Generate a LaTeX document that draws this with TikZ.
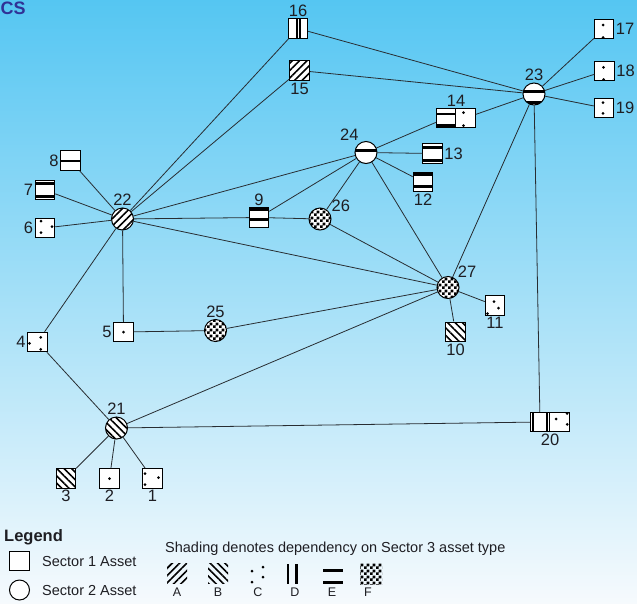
\documentclass[tikz,border=0pt]{standalone}
\usepackage{fontspec}
\setmainfont{Liberation Sans}
\usetikzlibrary{patterns, patterns.meta, positioning}

\definecolor{skytop}{RGB}{85,198,242}
\definecolor{skymid}{RGB}{178,227,248}
\definecolor{skybot}{RGB}{246,250,253}
\definecolor{edgegray}{RGB}{40,45,50}
\definecolor{numgray}{RGB}{30,30,35}
\definecolor{titleblue}{RGB}{48,50,150}

\pgfdeclarepatternformonly{checker}{\pgfpointorigin}{\pgfqpoint{5.6pt}{5.6pt}}{\pgfqpoint{5.6pt}{5.6pt}}{%
  \pgfpathrectangle{\pgfpointorigin}{\pgfqpoint{2.8pt}{2.8pt}}%
  \pgfpathrectangle{\pgfqpoint{2.8pt}{2.8pt}}{\pgfqpoint{2.8pt}{2.8pt}}%
  \pgfusepath{fill}}

\begin{document}
\begin{tikzpicture}[x=1pt, y=-1pt]
      \tikzset{asset1/.style = {shape=rectangle,draw,line width=1pt,preaction={fill=white},minimum size=19.5pt,inner sep=0pt}}
      \tikzset{asset2/.style = {shape=circle,draw,line width=1pt,preaction={fill=white},minimum size=22pt,inner sep=0pt}}
      \tikzset{edge/.style = {-,draw=edgegray,line width=0.8pt}}
      \tikzset{num/.style = {font=\fontsize{16.5}{18}\selectfont,text=numgray,inner sep=1.5pt}}
      \tikzset{legtxt/.style = {font=\fontsize{14.5}{16}\selectfont,text=numgray,inner sep=0pt,anchor=west}}
      \tikzset{shA/.style = {pattern={Lines[angle=45,distance=5.2pt,line width=1.6pt]}}}
      \tikzset{shB/.style = {pattern={Lines[angle=-45,distance=5.2pt,line width=1.6pt]}}}
      \tikzset{shF/.style = {pattern=checker}}
      \tikzset{shE/.style = {path picture={\foreach \y in {#1}
        \fill ([yshift=\y pt-1.3pt]path picture bounding box.west) rectangle ([yshift=\y pt+1.3pt]path picture bounding box.east);}}}
      \tikzset{shD/.style = {path picture={\foreach \x in {#1}
        \fill ([xshift=\x pt-1.1pt]path picture bounding box.south) rectangle ([xshift=\x pt+1.1pt]path picture bounding box.north);}}}
      \tikzset{shC/.style = {path picture={\foreach \x/\y in {#1}
        \fill ([shift={(\x pt,\y pt)}]path picture bounding box.center) circle (1.5pt);}}}

      \useasboundingbox (0,0) rectangle (637,603);
      \shade[top color=skytop, middle color=skymid, bottom color=skybot] (0,0) rectangle (637,603);
      \node[font=\bfseries\fontsize{18}{20}\selectfont, text=titleblue, anchor=west, inner sep=0pt] (title) at (0.5,8) {CS};

      % assets
      \node[asset1, shD={-1.2,2.2}, label={[num]above:16}] (16) at (298, 28.5) {};
      \node[asset1, shA, label={[num]below:15}] (15) at (299.5, 70.5) {};
      \node[asset1, shC={-1/4, -1/-8.5}, label={[num]right:17}] (17) at (604, 29) {};
      \node[asset1, shC={-1/3.7, -1/-8.5}, label={[num]right:18}] (18) at (604.5, 71) {};
      \node[asset1, shC={-1/5.3, -1/-5.3}, label={[num]right:19}] (19) at (604, 108) {};
      \node[asset2, shE={2.5,-8.5}, label={[num]above:23}] (23) at (534, 94) {};
      \node[asset1, shE={4,-7.5}, label={[num,xshift=10pt]above:14}] (14) at (446, 118) {};
      \node[asset1, shC={-2/5.3, -2/-7.7}, right=-1pt of 14] (14r) {};
      \node[asset1, shE={6,-7}, label={[num]right:13}] (13) at (432.5, 153.5) {};
      \node[asset1, shE={7.5,-4.5}, label={[num]below:12}] (12) at (423, 182) {};
      \node[asset2, shE={2}, label={[num]120:24}] (24) at (366, 152.5) {};
      \node[asset1, shE={-0.5}, label={[num]left:8}] (8) at (70.5, 160.5) {};
      \node[asset1, shE={6.5,-6.5}, label={[num]left:7}] (7) at (45, 190) {};
      \node[asset1, shC={-4/7, 7/1.3, -4/-4.7}, label={[num]left:6}] (6) at (45, 228) {};
      \node[asset2, shA, label={[num]above:22}] (22) at (122.5, 219) {};
      \node[asset1, shE={8,-2}, label={[num]above:9}] (9) at (259, 217.5) {};
      \node[asset2, shF, label={[num]30:26}] (26) at (320, 219) {};
      \node[asset2, shF, label={[num]45:27}] (27) at (448, 287.5) {};
      \node[asset1, shC={-1/4, 3.5/-2.5, -7.5/-8}, label={[num]below:11}] (11) at (495, 305.5) {};
      \node[asset1, shB, label={[num]below:10}] (10) at (455.5, 332) {};
      \node[asset2, shF, label={[num]above:25}] (25) at (215.5, 330.5) {};
      \node[asset1, shC={0/0}, label={[num]left:5}] (5) at (123.5, 332) {};
      \node[asset1, shC={3.2/4.7, -8/-1.3, 3.2/-7.3}, label={[num]left:4}] (4) at (37.5, 342) {};
      \node[asset2, shB, label={[num]above:21}] (21) at (116.5, 428) {};
      \node[asset1, shB, label={[num]below:3}] (3) at (66, 478.5) {};
      \node[asset1, shC={0/0}, label={[num]below:2}] (2) at (109.5, 478.5) {};
      \node[asset1, shC={-7.5/5, 6/1, -7.5/-6}, label={[num]below:1}] (1) at (152.5, 478.5) {};
      \node[asset1, shD={-7,7}, label={[num,xshift=10pt]below:20}] (20) at (540, 422) {};
      \node[asset1, shC={-3.3/3, 7.7/8.5, 7.7/-2.3}, right=-1pt of 20] (20r) {};

      % links
      \draw[edge] (22) to (16);
      \draw[edge] (22) to (15);
      \draw[edge] (16) to (23);
      \draw[edge] (15) to (23);
      \draw[edge] (23) to (17);
      \draw[edge] (23) to (18);
      \draw[edge] (23) to (19);
      \draw[edge] (23) to (14r);
      \draw[edge] (23) to (27);
      \draw[edge] (23) to (20);
      \draw[edge] (24) to (14);
      \draw[edge] (24) to (13);
      \draw[edge] (24) to (12);
      \draw[edge] (24) to (22);
      \draw[edge] (24) to (9);
      \draw[edge] (24) to (26);
      \draw[edge] (24) to (27);
      \draw[edge] (22) to (8);
      \draw[edge] (22) to (7);
      \draw[edge] (22) to (6);
      \draw[edge] (22) to (9);
      \draw[edge] (9) to (26);
      \draw[edge] (22) to (27);
      \draw[edge] (22) to (5);
      \draw[edge] (22) to (4);
      \draw[edge] (26) to (27);
      \draw[edge] (27) to (11);
      \draw[edge] (27) to (10);
      \draw[edge] (27) to (25);
      \draw[edge] (27) to (21);
      \draw[edge] (5) to (25);
      \draw[edge] (4) to (21);
      \draw[edge] (21) to (3);
      \draw[edge] (21) to (2);
      \draw[edge] (21) to (1);
      \draw[edge] (21) to (20);

      % legend
      \node[font=\bfseries\fontsize{16.5}{18}\selectfont, text=numgray, inner sep=0pt, anchor=west] (legend) at (4, 537) {Legend};
      \node[asset1] (key1) at (19.5, 561) {};
      \node[legtxt] (key1txt) at (42, 561) {Sector 1 Asset};
      \node[asset2, minimum size=20pt] (key2) at (19.5, 590) {};
      \node[legtxt] (key2txt) at (42, 590) {Sector 2 Asset};
      \node[legtxt] (shadetxt) at (165, 549) {Shading denotes dependency on Sector 3 asset type};
      \fill[shA] (167, 563) rectangle (187, 583);
      \fill[shB] (208, 563) rectangle (228, 583);
      \foreach \x/\y in {252/571, 263/567, 263/577, 252/582}
        \fill (\x, \y) circle (1.5pt);
      \fill (286.5, 564) rectangle (289.2, 584);
      \fill (295, 564) rectangle (297.7, 584);
      \fill (323, 569.3) rectangle (343, 572.1);
      \fill (323, 581) rectangle (343, 583.8);
      \fill[shF] (360, 563) rectangle (382, 584);
      \foreach \l/\x in {A/177, B/218, C/258, D/295, E/332, F/368}
        \node[font=\fontsize{12.5}{14}\selectfont, text=numgray, inner sep=0pt] (key\l) at (\x, 592) {\l};
\end{tikzpicture}
\end{document}
